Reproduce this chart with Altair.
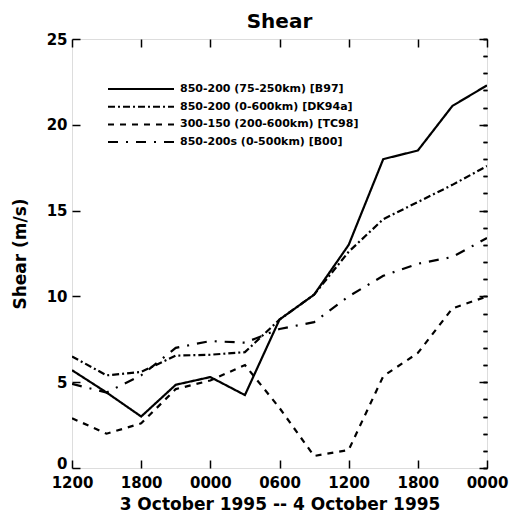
import altair as alt
import pandas as pd

# ---- data ----
hours = [0, 3, 6, 9, 12, 15, 18, 21, 24, 27, 30, 33, 36]
series_names = [
    "850-200 (75-250km) [B97]",
    "850-200 (0-600km) [DK94a]",
    "300-150 (200-600km) [TC98]",
    "850-200s (0-500km) [B00]",
]
b97 = [5.7, 4.4, 3.0, 4.85, 5.3, 4.25, 8.65, 10.1, 13.0, 18.0, 18.5, 21.1, 22.3]
dk94a = [6.5, 5.4, 5.6, 6.55, 6.6, 6.75, 8.65, 10.1, 12.6, 14.5, 15.5, 16.5, 17.6]
tc98 = [2.9, 2.0, 2.6, 4.6, 5.1, 6.0, 3.5, 0.7, 1.05, 5.35, 6.7, 9.3, 10.0]
b00 = [4.9, 4.4, 5.4, 7.0, 7.4, 7.3, 8.1, 8.5, 10.0, 11.2, 11.9, 12.3, 13.4]
x_tick_values = [0, 6, 12, 18, 24, 30, 36]
x_tick_labels = ["1200", "1800", "0000", "0600", "1200", "1800", "0000"]
y_major = [0, 5, 10, 15, 20, 25]
y_minor = list(range(0, 26))

rows = []
for name, vals in zip(series_names, [b97, dk94a, tc98, b00]):
    for h, v in zip(hours, vals):
        rows.append({"t": h, "v": v, "series": name})
df = pd.DataFrame(rows)

dashes = [[1, 0], [7, 3, 2, 3], [6, 6], [10, 8, 2, 8]]
FONT = "DejaVu Sans"
label_expr = "[" + ",".join("'%s'" % s for s in x_tick_labels) + "][round(datum.value/6)]"

xscale = alt.Scale(domain=[0, 36], nice=False, zero=False)
yscale = alt.Scale(domain=[0, 25], nice=False)

base = alt.Chart(df)

lines = base.mark_line(color="black", strokeWidth=2.2, clip=True).encode(
    x=alt.X("t:Q", scale=xscale,
            title="3 October 1995 -- 4 October 1995",
            axis=alt.Axis(values=x_tick_values, labelExpr=label_expr, tickSize=8,
                          offset=-8, domain=False, grid=False, labelPadding=7,
                          labelFont=FONT, labelFontSize=15, labelFontWeight="bold",
                          labelColor="black", tickColor="black", tickWidth=1.5,
                          titleFont=FONT, titleFontSize=17, titleFontWeight="bold",
                          titleColor="black", titlePadding=6, labelFlush=False)),
    y=alt.Y("v:Q", scale=yscale, title="Shear (m/s)",
            axis=alt.Axis(values=y_major, tickSize=8, offset=-8, domain=False,
                          grid=False, labelPadding=5, labelFont=FONT, labelFontSize=15,
                          labelFontWeight="bold", labelColor="black", tickColor="black",
                          labelOffset={"condition": {"test": "datum.value === 0", "value": -5}, "value": 0},
                          tickWidth=1.5, titleFont=FONT, titleFontSize=17,
                          titleFontWeight="bold", titleColor="black", titlePadding=17)),
    strokeDash=alt.StrokeDash(
        "series:N",
        scale=alt.Scale(domain=series_names, range=dashes),
        sort=series_names,
        legend=alt.Legend(title=None, orient="none", legendX=35, legendY=44,
                          symbolType="stroke", symbolSize=4356, symbolStrokeWidth=2,
                          symbolStrokeColor="black", labelFont=FONT, labelFontSize=11,
                          labelFontWeight="bold", labelColor="black", labelOffset=5,
                          clipHeight=12, rowPadding=5.7, labelLimit=400),
    ),
)

left_minor = base.mark_point(opacity=0).encode(
    x=alt.X("t:Q", scale=xscale, axis=None),
    y=alt.Y("v:Q", scale=yscale,
            axis=alt.Axis(values=y_minor, tickSize=4, offset=-4, domain=False,
                          grid=False, labels=False, title=None, tickColor="black",
                          tickWidth=1.5)),
)

right_top_major = base.mark_point(opacity=0).encode(
    x=alt.X("t:Q", scale=xscale,
            axis=alt.Axis(orient="top", values=x_tick_values, tickSize=8, offset=-8,
                          domain=False, grid=False, labels=False, title=None,
                          tickColor="black", tickWidth=1.5)),
    y=alt.Y("v:Q", scale=yscale,
            axis=alt.Axis(orient="right", values=y_major, tickSize=8, offset=-8,
                          domain=False, grid=False, labels=False, title=None,
                          tickColor="black", tickWidth=1.5)),
)

right_minor = base.mark_point(opacity=0).encode(
    x=alt.X("t:Q", scale=xscale, axis=None),
    y=alt.Y("v:Q", scale=yscale,
            axis=alt.Axis(orient="right", values=y_minor, tickSize=4, offset=-4,
                          domain=False, grid=False, labels=False, title=None,
                          tickColor="black", tickWidth=1.5)),
)

chart = (
    alt.layer(lines, left_minor, right_top_major, right_minor)
    .resolve_scale(x="shared", y="shared")
    .resolve_axis(x="independent", y="independent")
    .properties(
        width=415, height=429,
        title=alt.Title("Shear", font=FONT, fontSize=20, fontWeight="bold",
                        color="black", offset=0),
        autosize=alt.AutoSizeParams(type="none"),
        padding={"left": 72, "top": 39, "right": 25, "bottom": 51},
    )
    .configure_view(stroke="black", strokeWidth=2)
    .configure(background="white")
)

chart.save("out.html", embed_options={"renderer": "svg", "actions": False})
